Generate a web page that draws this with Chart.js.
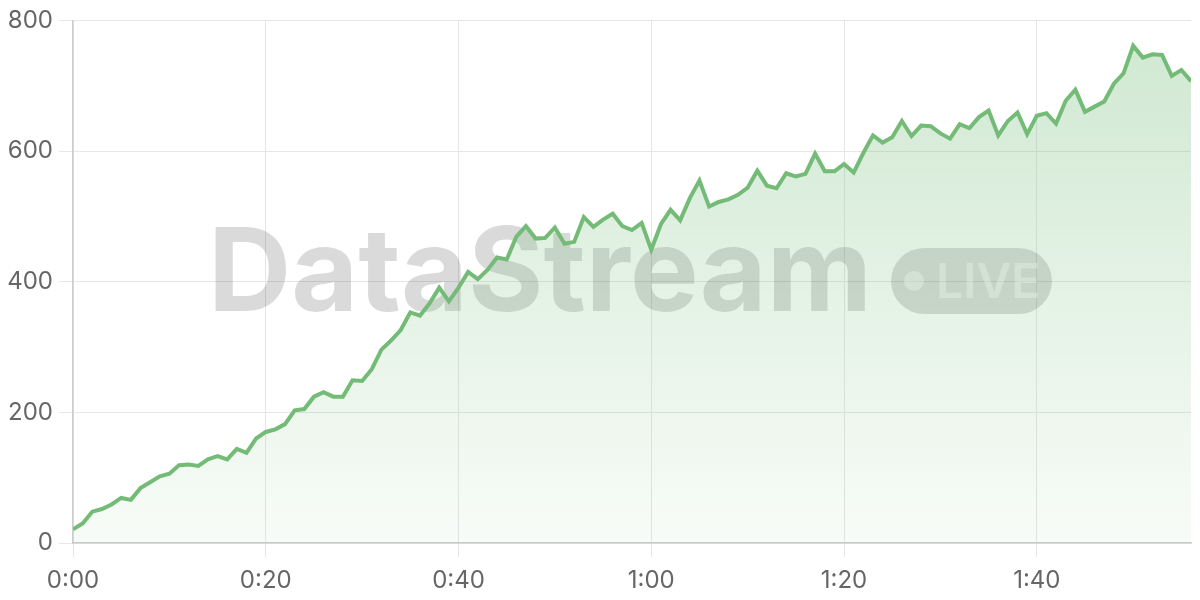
<!DOCTYPE html>
<html>
<head>
<meta charset="utf-8">
<script src="https://cdn.jsdelivr.net/npm/chart.js@4/dist/chart.umd.min.js"></script>
<style>
html,body{margin:0;padding:0;background:#fff;}
#wrap{width:1200px;height:600px;position:relative;}
</style>
</head>
<body>
<div id="wrap"><canvas id="c" width="1200" height="600"></canvas></div>
<script>
// Values per second (index = elapsed seconds)
const values = [21,30,48,52,59,69,66,84,93,102,106,119,120,118,128,133,128,144,138,160,
170,174,182,203,205,224,231,224,224,249,248,266,296,310,326,353,348,367,391,370,
391,415,404,418,437,434,469,485,466,467,483,458,461,499,484,495,504,485,479,490,
449,488,510,494,528,555,515,522,526,533,544,570,547,543,566,561,565,596,569,569,
580,567,597,624,613,621,646,623,639,638,627,619,641,635,652,662,624,646,659,626,
654,658,642,677,694,660,668,676,703,719,761,743,748,747,715,724,707];
const xTickValues = [0,20,40,60,80,100];
const xTickLabels = ["0:00","0:20","0:40","1:00","1:20","1:40"];
const yTickValues = [0,200,400,600,800];
const watermarkText = "DataStream";
const badgeText = "LIVE";

const points = values.map((v,i)=>({x:i,y:v}));

const watermark = {
  id:'watermark',
  beforeDatasetsDraw(chart){
    const ctx = chart.ctx;
    ctx.save();
    ctx.fillStyle = 'rgba(0,0,0,0.145)';
    ctx.font = 'bold 116px Inter';
    ctx.textBaseline = 'alphabetic';
    ctx.textAlign = 'left';
    const tw = ctx.measureText(watermarkText).width;
    const sx = 664 / tw;
    ctx.save();
    ctx.translate(208, 311);
    ctx.scale(sx, 1);
    ctx.fillText(watermarkText, 0, 0);
    ctx.restore();
    // pill
    const x=891,y=248,w=161,h=66,r=33;
    ctx.beginPath();
    ctx.moveTo(x+r,y);
    ctx.lineTo(x+w-r,y);
    ctx.arc(x+w-r,y+r,r,-Math.PI/2,Math.PI/2);
    ctx.lineTo(x+r,y+h);
    ctx.arc(x+r,y+r,r,Math.PI/2,Math.PI*1.5);
    ctx.closePath();
    ctx.fill();
    ctx.fillStyle = 'rgba(255,255,255,0.45)';
    ctx.beginPath();
    ctx.arc(914,281,10,0,Math.PI*2);
    ctx.fill();
    ctx.font = '600 48px Inter';
    ctx.fillText(badgeText, 936, 298);
    ctx.restore();
  }
};

const ctx = document.getElementById('c').getContext('2d');
const grad = ctx.createLinearGradient(0,20,0,543);
grad.addColorStop(0,'rgba(114,187,118,0.34)');
grad.addColorStop(1,'rgba(114,187,118,0.05)');

new Chart(ctx,{
  type:'line',
  data:{datasets:[{
    data:points,
    borderColor:'#74bb78',
    borderWidth:4,
    backgroundColor:grad,
    fill:'origin',
    tension:0,
    pointRadius:0,
    borderJoinStyle:'miter'
  }]},
  options:{
    responsive:false,
    animation:false,
    events:[],
    layout:{padding:{left:0,right:9,top:20,bottom:0}},
    plugins:{legend:{display:false},tooltip:{enabled:false}},
    scales:{
      x:{
        type:'linear',
        min:0,max:values.length-1,
        afterBuildTicks(s){ s.ticks = xTickValues.map(v=>({value:v})); },
        afterFit(s){ s.height = 57; },
        ticks:{
          callback:(v)=>{const i=xTickValues.indexOf(v);return i>=0?xTickLabels[i]:'';},
          color:'#666',font:{family:'Inter',size:24},padding:9,maxRotation:0
        },
        grid:{color:'#e6e6e6',lineWidth:1,tickLength:14,tickColor:'#e6e6e6'},
        border:{color:'#cccccc',width:1.5}
      },
      y:{
        min:0,max:800,
        afterBuildTicks(s){ s.ticks = yTickValues.map(v=>({value:v})); },
        afterFit(s){ s.width = 73; },
        ticks:{color:'#666',font:{family:'Inter',size:24},padding:6},
        grid:{color:'#e6e6e6',lineWidth:1,tickLength:14,tickColor:'#e6e6e6'},
        border:{color:'#cccccc',width:1.5}
      }
    }
  },
  plugins:[watermark]
});
</script>
</body>
</html>
